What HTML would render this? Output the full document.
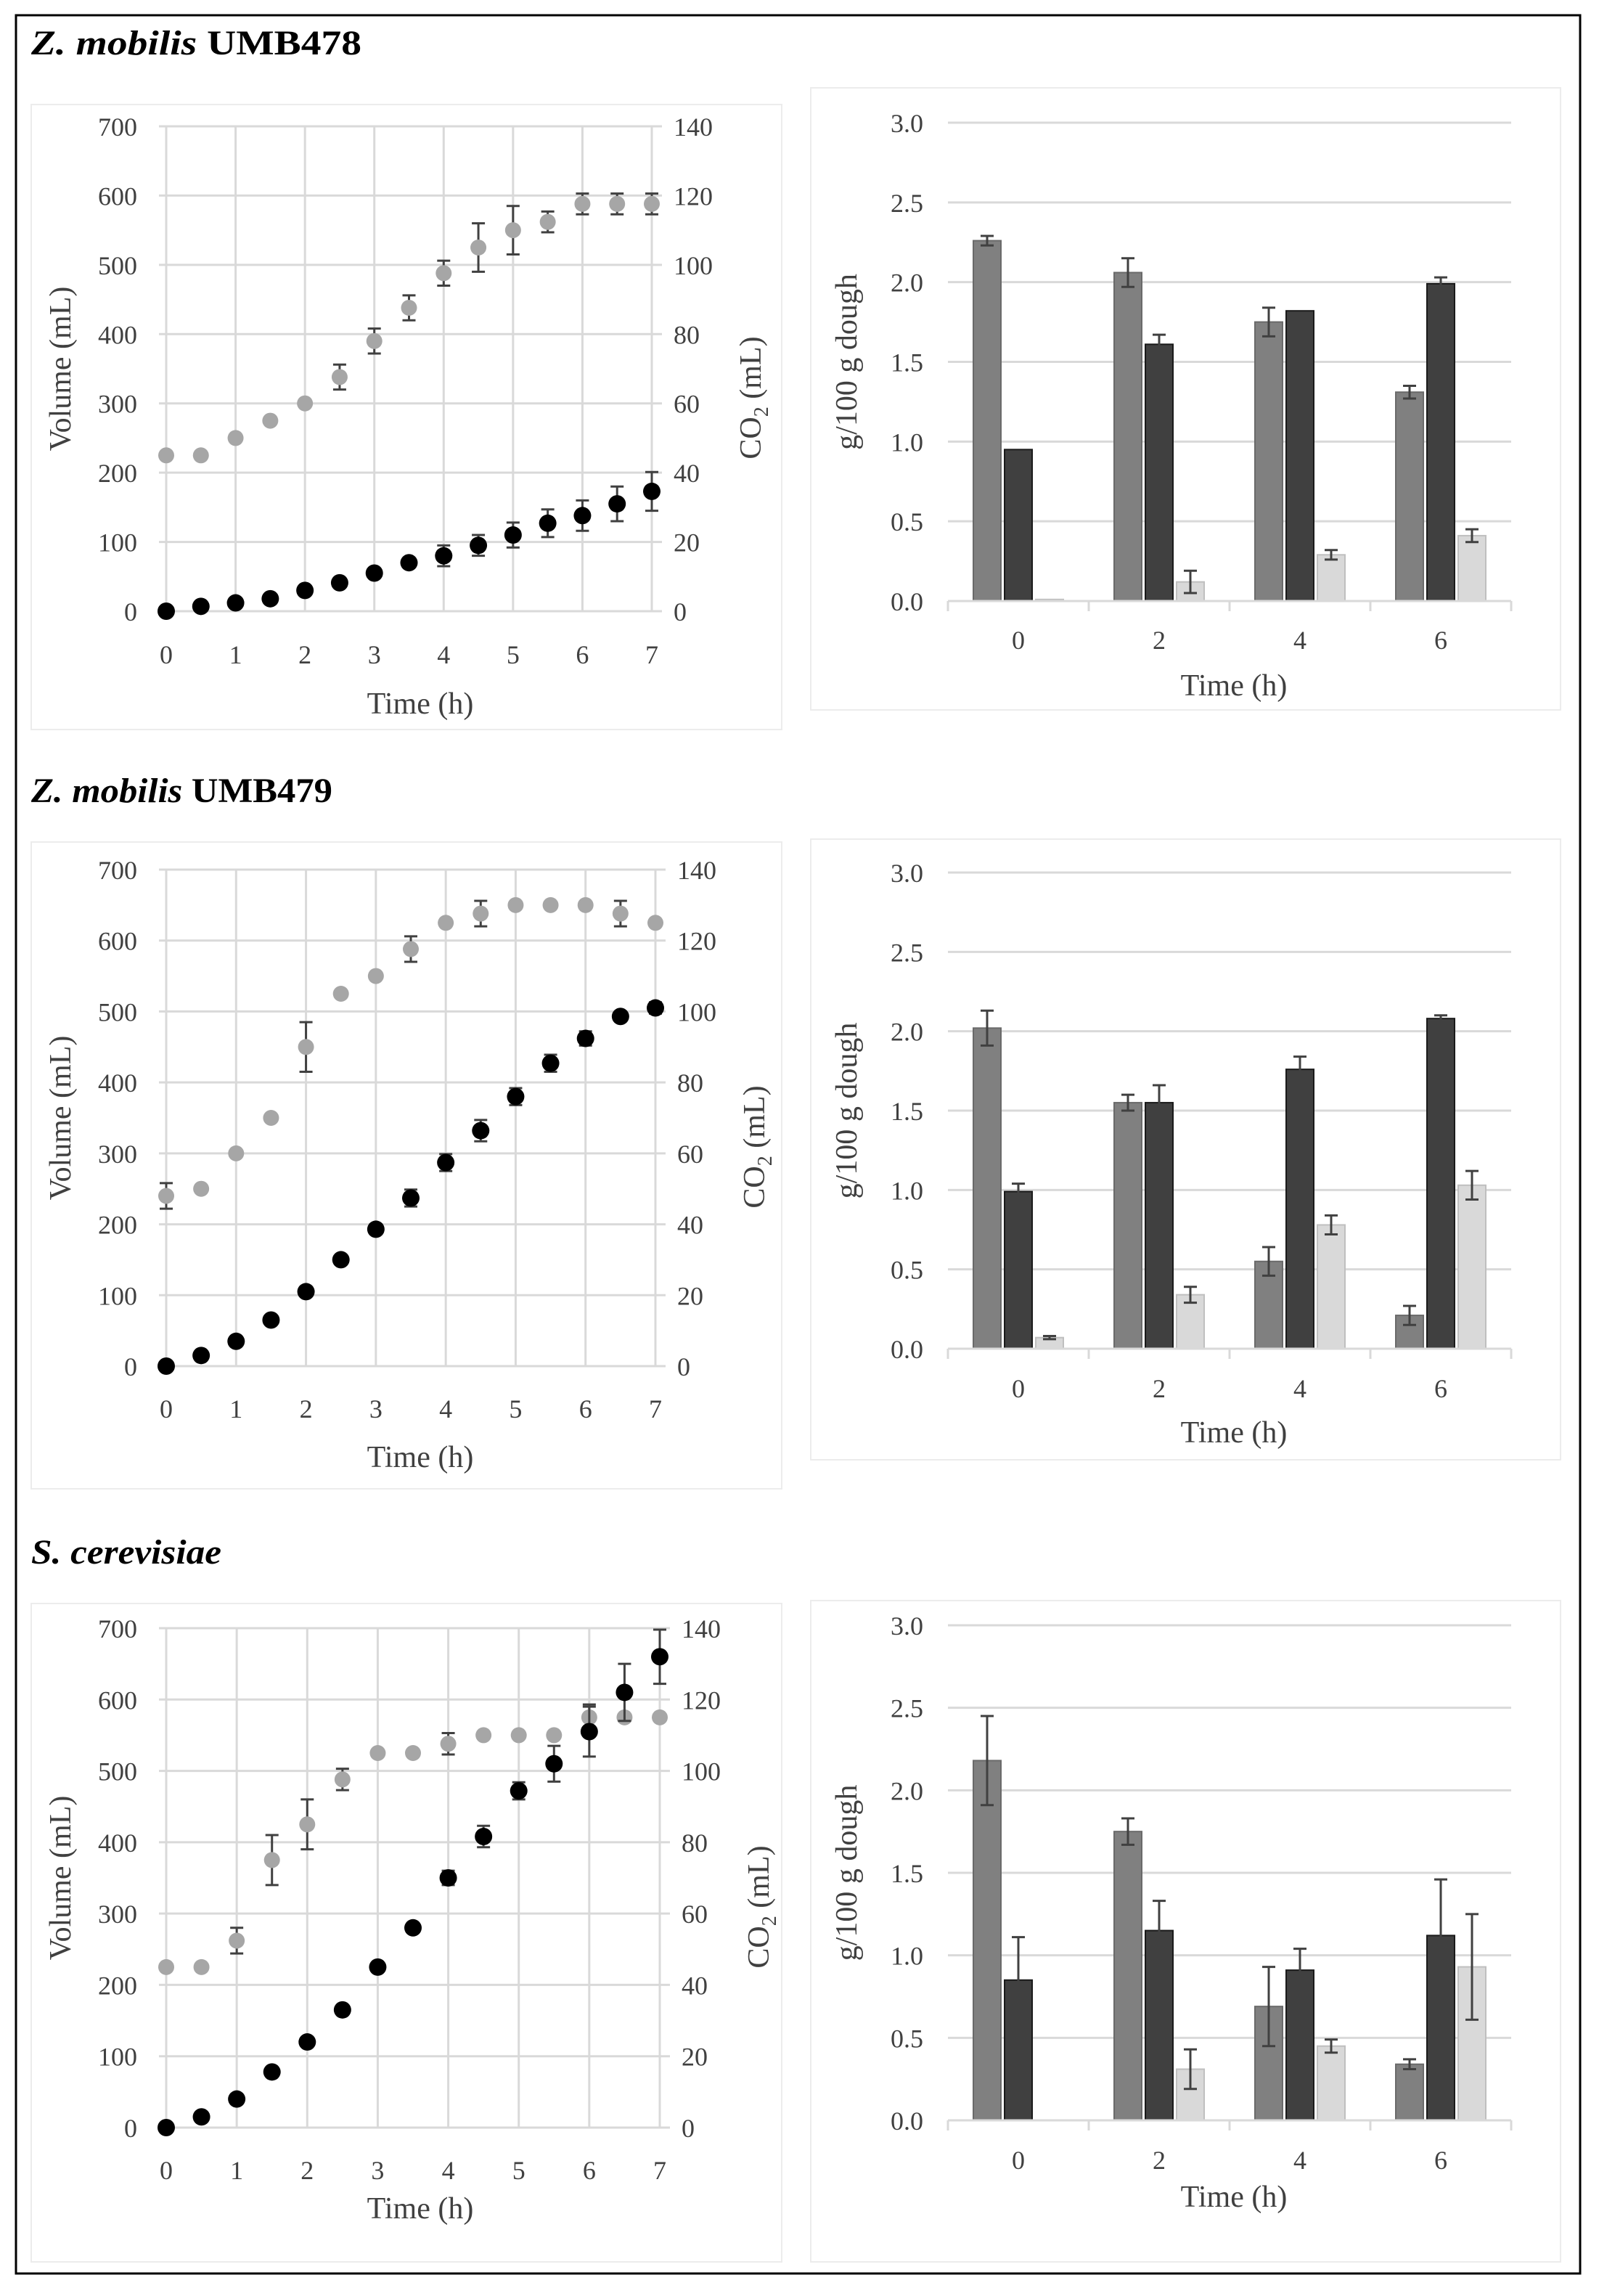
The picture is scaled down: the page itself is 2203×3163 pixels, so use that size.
<!DOCTYPE html>
<html><head><meta charset="utf-8"><style>
html,body{margin:0;padding:0;background:#fff}
svg{display:block}
text{font-family:"Liberation Serif",serif;fill:#404040}
</style></head><body>
<svg id="fig" width="2203" height="3163" viewBox="0 0 2203 3163" xmlns="http://www.w3.org/2000/svg">
<rect x="0" y="0" width="2203" height="3163" fill="#fff"/>
<rect x="22" y="21" width="2155" height="3111" fill="none" stroke="#000" stroke-width="3"/>
<text x="43" y="75" font-size="48" font-weight="bold" textLength="455" lengthAdjust="spacingAndGlyphs" style="fill:#000"><tspan font-style="italic">Z. mobilis</tspan> UMB478</text>
<text x="43" y="1105" font-size="48" font-weight="bold" textLength="415" lengthAdjust="spacingAndGlyphs" style="fill:#000"><tspan font-style="italic">Z. mobilis</tspan> UMB479</text>
<text x="43" y="2154" font-size="48" font-weight="bold" font-style="italic" textLength="262" lengthAdjust="spacingAndGlyphs" style="fill:#000">S. cerevisiae</text>
</svg>
<script>
// ---- Line chart data (volume gray, CO2 black in left-axis units) ----
const timeH = [0,0.5,1,1.5,2,2.5,3,3.5,4,4.5,5,5.5,6,6.5,7];
const xTicks = [0,1,2,3,4,5,6,7];
const volTicks = [0,100,200,300,400,500,600,700];
const co2Ticks = [0,20,40,60,80,100,120,140];
const vol478 = [225,225,250,275,300,338,390,438,488,525,550,562,588,588,588];
const vol478Err = [0,0,0,0,0,18,18,18,18,35,35,15,15,15,15];
const co2_478 = [0,1.4,2.4,3.6,6,8.2,11,14,16,19,22,25.4,27.6,31,34.6];
const co2_478Err = [0,0,0,0,0,0,0,0,3,3,3.6,4,4.4,5,5.6];
const vol479 = [240,250,300,350,450,525,550,588,625,638,650,650,650,638,625];
const vol479Err = [18,0,0,0,35,0,0,18,0,18,0,0,0,18,0];
const co2_479 = [0,3,7,13,21,30,38.6,47.4,57.4,66.4,76,85.4,92.4,98.6,101];
const co2_479Err = [0,0,0,0,0,0,0,2.4,2.4,3,2.4,2.4,2,0,1.6];
const volSc = [225,225,262,375,425,488,525,525,538,550,550,550,575,575,575];
const volScErr = [0,0,18,35,35,15,0,0,15,0,0,0,18,0,0];
const co2Sc = [0,3,8,15.6,24,33,45,56,70,81.6,94.4,102,111,122,132];
const co2ScErr = [0,0,0,0,0,0,0,0,2,3,2.4,5,7,8,7.6];
// ---- Bar chart data ----
const barCats = ["0","2","4","6"];
const barTicks = [0,0.5,1.0,1.5,2.0,2.5,3.0];
const b478A = [2.26,2.06,1.75,1.31], b478AErr=[0.03,0.09,0.09,0.04];
const b478B = [0.95,1.61,1.82,1.99], b478BErr=[0,0.06,0,0.04];
const b478C = [0.01,0.12,0.29,0.41], b478CErr=[0,0.07,0.03,0.04];
const b479A = [2.02,1.55,0.55,0.21], b479AErr=[0.11,0.05,0.09,0.06];
const b479B = [0.99,1.55,1.76,2.08], b479BErr=[0.05,0.11,0.08,0.02];
const b479C = [0.07,0.34,0.78,1.03], b479CErr=[0.01,0.05,0.06,0.09];
const bScA = [2.18,1.75,0.69,0.34], bScAErr=[0.27,0.08,0.24,0.03];
const bScB = [0.85,1.15,0.91,1.12], bScBErr=[0.26,0.18,0.13,0.34];
const bScC = [0,0.31,0.45,0.93], bScCErr=[0,0.12,0.04,0.32];

const NS="http://www.w3.org/2000/svg";
const svg=document.getElementById('fig');
function el(tag,attrs,parent){const e=document.createElementNS(NS,tag);for(const k in attrs)e.setAttribute(k,attrs[k]);(parent||svg).appendChild(e);return e;}

function lineChart(id,P,vol,volErr,co2,co2Err){
  const g=el('g',{});
  
  
  const panel=el('rect',{x:P.px,y:P.py,width:P.pw,height:P.ph,fill:'#fff',stroke:'#ececec','stroke-width':2},g);
  
  
  const xs=t=>P.x0+(P.x1-P.x0)*t/7;
  const ys=v=>P.y0-(P.y0-P.y1)*v/700;
  volTicks.forEach((v,i)=>{
    const l=el('line',{x1:P.x0-10,x2:P.x1+14,y1:ys(v),y2:ys(v),stroke:'#d9d9d9','stroke-width':3},g);
    
    
    const t=el('text',{x:189,y:ys(v)+13,'font-size':36,'text-anchor':'end'},g);t.textContent=v;
    
    
    const t2=el('text',{x:P.x1+30,y:ys(co2Ticks[i]*5)+13,'font-size':36},g);t2.textContent=co2Ticks[i];
    
    
  });
  xTicks.forEach(t=>{
    const l=el('line',{x1:xs(t),x2:xs(t),y1:P.y1,y2:P.y0,stroke:'#d9d9d9','stroke-width':3},g);
    
    
    const tx=el('text',{x:xs(t),y:P.tickY+13,'font-size':36,'text-anchor':'middle'},g);tx.textContent=t;
    
    
  });
  const xt=el('text',{x:579,y:P.titleY+14,'font-size':42,'text-anchor':'middle'},g);xt.textContent='Time (h)';
  
  
  const cy=(P.y0+P.y1)/2;
  const yt=el('text',{x:0,y:0,'font-size':42,'text-anchor':'middle',transform:`translate(97,${cy}) rotate(-90)`},g);yt.textContent='Volume (mL)';
  
  
  const yt2=el('text',{x:0,y:0,'font-size':42,'text-anchor':'middle',transform:`translate(${P.x1+150},${cy+40}) rotate(-90)`},g);
  yt2.innerHTML='CO<tspan font-size="28" dy="10">2</tspan><tspan dy="-10"> (mL)</tspan>';
  
  
  function series(vals,errs,col,r,name){
    vals.forEach((v,i)=>{
      const x=xs(timeH[i]),y=ys(v);
      if(errs[i]>0){
        const e=el('path',{d:`M${x},${ys(v+errs[i])}V${ys(v-errs[i])}M${x-9},${ys(v+errs[i])}h18M${x-9},${ys(v-errs[i])}h18`,stroke:'#404040','stroke-width':3,fill:'none'},g);
        
        
      }
      const c=el('circle',{cx:x,cy:y,r:r,fill:col},g);
      
      
    });
  }
  series(vol,volErr,'#a6a6a6',11,'volume-point');
  series(co2.map(v=>v*5),co2Err.map(v=>v*5),'#000',12,'co2-point');
}

function barChart(id,P,A,Ae,B,Be,C,Ce){
  const g=el('g',{});
  
  
  const panel=el('rect',{x:1117,y:P.py,width:1033,height:P.ph,fill:'#fff',stroke:'#ececec','stroke-width':2},g);
  
  
  const x0=1306,x1=2082,cw=(x1-x0)/4;
  const ys=v=>P.y0-(P.y0-P.y1)*v/3;
  barTicks.forEach(v=>{
    const l=el('line',{x1:x0,x2:x1,y1:ys(v),y2:ys(v),stroke:'#d9d9d9','stroke-width':3},g);
    
    
    const t=el('text',{x:1272,y:ys(v)+13,'font-size':36,'text-anchor':'end'},g);t.textContent=v.toFixed(1);
    
    
  });
  for(let i=0;i<=4;i++){
    const l=el('line',{x1:x0+cw*i,x2:x0+cw*i,y1:P.y0,y2:P.y0+14,stroke:'#d9d9d9','stroke-width':3},g);
    
    
  }
  barCats.forEach((c,i)=>{
    const t=el('text',{x:x0+cw*(i+0.5),y:P.tickY+13,'font-size':36,'text-anchor':'middle'},g);t.textContent=c;
    
    
  });
  const xt=el('text',{x:1700,y:P.titleY+14,'font-size':42,'text-anchor':'middle'},g);xt.textContent='Time (h)';
  
  
  const yt=el('text',{x:0,y:0,'font-size':42,'text-anchor':'middle',transform:`translate(1180,${(P.y0+P.y1)/2}) rotate(-90)`},g);yt.textContent='g/100 g dough';
  
  
  const sets=[[A,Ae,'#808080','#6a6a6a',-43],[B,Be,'#404040','#1a1a1a',0],[C,Ce,'#d9d9d9','#bfbfbf',43]];
  sets.forEach((s,si)=>{
    s[0].forEach((v,i)=>{
      const cx=x0+cw*(i+0.5)+s[4];
      const r=el('rect',{x:cx-19,y:ys(v),width:38,height:Math.max(0,P.y0-ys(v)),fill:s[2],stroke:s[3],'stroke-width':2},g);
      
      
      const e=s[1][i];
      if(e>0){
        const p=el('path',{d:`M${cx},${ys(v+e)}V${ys(v-e)}M${cx-9},${ys(v+e)}h18M${cx-9},${ys(v-e)}h18`,stroke:'#404040','stroke-width':3,fill:'none'},g);
        
        
      }
    });
  });
  const base=el('line',{x1:x0,x2:x1,y1:P.y0,y2:P.y0,stroke:'#d9d9d9','stroke-width':3},g);
  
  
}

lineChart('volume-co2-chart-umb478',{px:43,py:144,pw:1034,ph:861,x0:229,x1:898,y0:842,y1:174,tickY:901,titleY:969},vol478,vol478Err,co2_478,co2_478Err);
lineChart('volume-co2-chart-umb479',{px:43,py:1160,pw:1034,ph:891,x0:229,x1:903,y0:1882,y1:1198,tickY:1940,titleY:2007},vol479,vol479Err,co2_479,co2_479Err);
lineChart('volume-co2-chart-s-cerevisiae',{px:43,py:2209,pw:1034,ph:907,x0:229,x1:909,y0:2931,y1:2243,tickY:2989,titleY:3042},volSc,volScErr,co2Sc,co2ScErr);
barChart('sugar-bar-chart-umb478',{py:121,ph:857,y0:828,y1:169,tickY:881,titleY:944},b478A,b478AErr,b478B,b478BErr,b478C,b478CErr);
barChart('sugar-bar-chart-umb479',{py:1156,ph:855,y0:1858,y1:1202,tickY:1912,titleY:1973},b479A,b479AErr,b479B,b479BErr,b479C,b479CErr);
barChart('sugar-bar-chart-s-cerevisiae',{py:2205,ph:911,y0:2921,y1:2239,tickY:2975,titleY:3026},bScA,bScAErr,bScB,bScBErr,bScC,bScCErr);
</script>
</body></html>
